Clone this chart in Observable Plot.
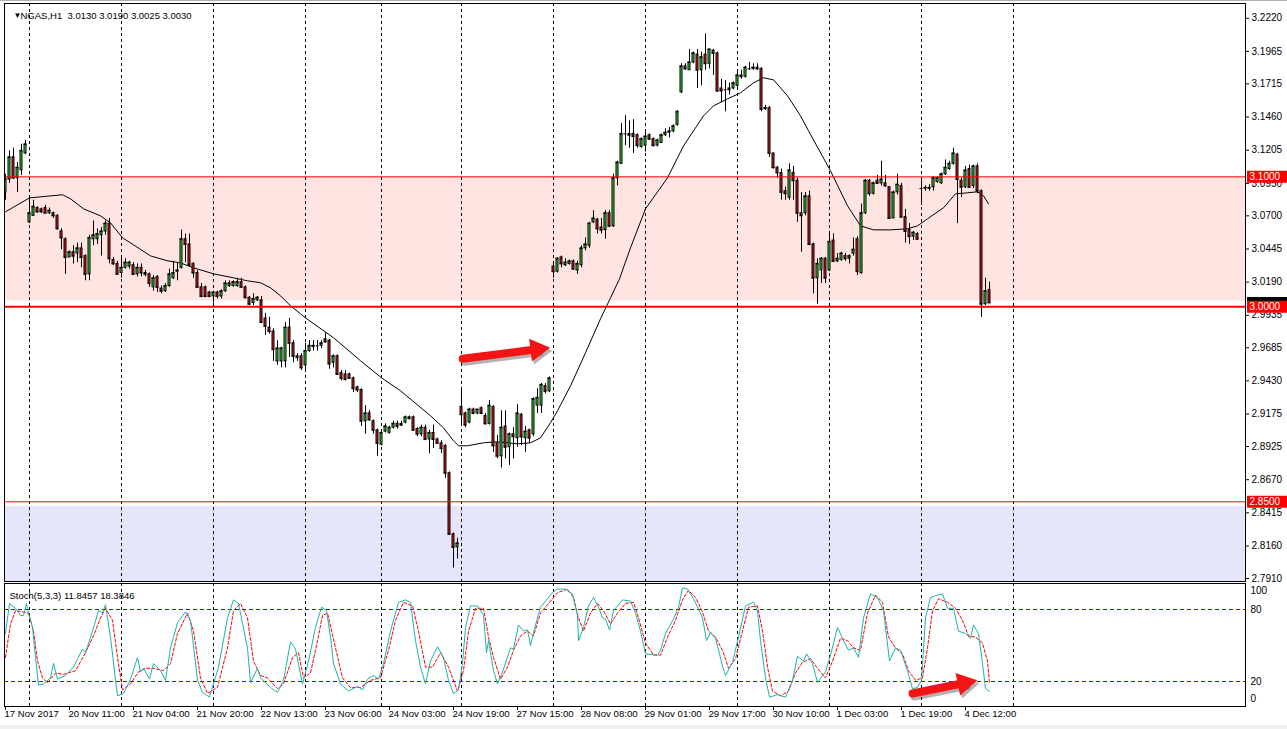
<!DOCTYPE html>
<html><head><meta charset="utf-8">
<script src="https://cdn.jsdelivr.net/npm/d3@7"></script>
<script src="https://cdn.jsdelivr.net/npm/@observablehq/plot@0.6"></script>
<style>
body{margin:0;background:#fff;}
#wrap{position:relative;width:1287px;height:729px;background:#fff;overflow:hidden;}
#wrap svg{display:block;}
#stochBox{margin-top:-8px;}
#bottomStrip{position:absolute;left:0;bottom:0;width:1287px;height:4px;background:#f0f0f0;}
#topStrip{position:absolute;left:0;top:0;width:1287px;height:1px;background:#b0b0b0;}
</style></head><body><div id="wrap"><div id="mainBox"></div><div id="stochBox"></div><div id="topStrip"></div><div id="bottomStrip"></div></div>
<script>
const symbol = "NGAS";
const timeframe = "H1";

// ---- candles (H1), bar index 0 = 17 Nov 2017 ----
const open = [
3.088,3.098,3.115,3.099,3.105,3.118,3.065,3.070,3.076,3.075,
3.076,3.072,3.072,3.070,3.058,3.052,3.038,3.042,3.041,3.045,
3.039,3.025,3.052,3.052,3.055,3.058,3.064,3.036,3.033,3.026,
3.030,3.031,3.032,3.025,3.030,3.026,3.025,3.015,3.023,3.014,
3.012,3.016,3.022,3.027,3.030,3.052,3.048,3.033,3.026,3.015,
3.015,3.011,3.008,3.011,3.008,3.012,3.016,3.016,3.016,3.019,
3.015,3.007,3.003,3.005,3.005,2.991,2.984,2.981,2.958,2.958,
2.958,2.984,2.972,2.962,2.962,2.955,2.966,2.969,2.970,2.970,
2.975,2.974,2.957,2.962,2.949,2.948,2.948,2.945,2.938,2.936,
2.912,2.918,2.912,2.905,2.894,2.904,2.903,2.907,2.910,2.910,
2.911,2.915,2.915,2.906,2.902,2.907,2.898,2.903,2.898,2.895,
2.893,2.872,2.825,2.815,2.923,2.918,2.911,2.921,2.918,2.922,
2.916,2.910,2.923,2.895,2.885,2.908,2.892,2.902,2.899,2.917,
2.899,2.905,2.902,2.924,2.924,2.939,2.935,3.031,3.027,3.038,
3.032,3.033,3.035,3.028,3.032,3.045,3.047,3.065,3.067,3.061,
3.059,3.072,3.062,3.099,3.110,3.133,3.133,3.133,3.132,3.123,
3.124,3.132,3.129,3.124,3.126,3.132,3.134,3.135,3.140,3.165,
3.185,3.182,3.188,3.194,3.182,3.194,3.187,3.197,3.195,3.168,
3.167,3.168,3.168,3.170,3.178,3.177,3.183,3.183,3.184,3.183,
3.152,3.153,3.118,3.107,3.103,3.089,3.084,3.103,3.097,3.072,
3.072,3.085,3.048,3.022,3.028,3.037,3.028,3.051,3.035,3.036,
3.039,3.037,3.041,3.052,3.026,3.072,3.097,3.087,3.097,3.095,
3.095,3.092,3.068,3.088,3.093,3.069,3.059,3.054,3.056,3.091,
3.091,3.091,3.092,3.096,3.095,3.102,3.106,3.110,3.117,3.097,
3.092,3.106,3.093,3.108,3.089,3.002,3.0130];
const high = [
3.102,3.120,3.122,3.111,3.125,3.128,3.084,3.082,3.077,3.076,
3.078,3.076,3.073,3.071,3.060,3.053,3.043,3.047,3.049,3.049,
3.040,3.055,3.066,3.060,3.061,3.066,3.068,3.038,3.035,3.038,
3.037,3.035,3.034,3.033,3.033,3.028,3.026,3.024,3.024,3.016,
3.018,3.029,3.035,3.034,3.059,3.056,3.056,3.034,3.028,3.018,
3.016,3.012,3.012,3.012,3.013,3.020,3.020,3.020,3.022,3.022,
3.016,3.008,3.010,3.008,3.008,2.995,2.992,2.983,2.974,2.969,
2.988,2.991,2.974,2.964,2.964,2.972,2.974,2.974,2.974,2.974,
2.980,2.975,2.963,2.963,2.951,2.951,2.949,2.946,2.939,2.937,
2.924,2.920,2.913,2.906,2.905,2.910,2.908,2.912,2.912,2.912,
2.916,2.916,2.916,2.907,2.909,2.909,2.905,2.909,2.899,2.897,
2.894,2.873,2.826,2.822,2.938,2.919,2.922,2.922,2.921,2.923,
2.918,2.928,2.924,2.901,2.920,2.920,2.903,2.907,2.925,2.918,
2.908,2.906,2.930,2.937,2.941,2.941,2.946,3.034,3.038,3.039,
3.037,3.036,3.036,3.035,3.047,3.053,3.065,3.074,3.068,3.068,
3.074,3.074,3.102,3.112,3.141,3.147,3.143,3.144,3.133,3.130,
3.135,3.133,3.130,3.129,3.133,3.137,3.138,3.140,3.151,3.187,
3.187,3.198,3.196,3.198,3.196,3.210,3.198,3.198,3.196,3.175,
3.174,3.172,3.173,3.182,3.182,3.185,3.188,3.187,3.187,3.184,
3.155,3.154,3.118,3.108,3.106,3.092,3.110,3.108,3.099,3.088,
3.088,3.089,3.049,3.037,3.038,3.038,3.058,3.056,3.041,3.042,
3.041,3.040,3.053,3.054,3.079,3.098,3.098,3.096,3.101,3.112,
3.101,3.092,3.089,3.102,3.095,3.075,3.064,3.058,3.057,3.097,
3.093,3.094,3.100,3.100,3.103,3.113,3.112,3.122,3.118,3.099,
3.108,3.109,3.109,3.110,3.090,3.022,3.0190];
const low = [
3.082,3.095,3.098,3.088,3.101,3.117,3.064,3.070,3.072,3.072,
3.072,3.071,3.068,3.059,3.044,3.025,3.038,3.033,3.034,3.030,
3.020,3.020,3.047,3.048,3.039,3.055,3.033,3.032,3.025,3.022,
3.029,3.029,3.024,3.023,3.023,3.023,3.015,3.012,3.011,3.010,
3.011,3.015,3.021,3.020,3.029,3.034,3.031,3.022,3.015,3.007,
3.007,3.007,3.003,3.006,3.006,3.011,3.015,3.015,3.015,3.014,
3.006,3.001,3.001,3.004,2.987,2.978,2.979,2.958,2.955,2.953,
2.953,2.961,2.957,2.958,2.951,2.951,2.965,2.966,2.966,2.968,
2.972,2.952,2.953,2.948,2.943,2.943,2.944,2.934,2.934,2.908,
2.902,2.912,2.902,2.885,2.893,2.903,2.902,2.906,2.906,2.908,
2.910,2.913,2.905,2.900,2.900,2.897,2.887,2.891,2.895,2.887,
2.868,2.825,2.799,2.806,2.910,2.907,2.910,2.917,2.917,2.917,
2.909,2.909,2.888,2.883,2.876,2.883,2.878,2.883,2.892,2.893,
2.888,2.895,2.900,2.918,2.918,2.933,2.934,3.022,3.026,3.030,
3.031,3.032,3.028,3.025,3.030,3.043,3.045,3.064,3.056,3.056,
3.052,3.061,3.061,3.093,3.110,3.124,3.122,3.118,3.122,3.122,
3.119,3.128,3.123,3.123,3.126,3.131,3.130,3.134,3.139,3.164,
3.182,3.182,3.187,3.168,3.170,3.182,3.183,3.178,3.165,3.157,
3.150,3.163,3.167,3.168,3.175,3.176,3.182,3.182,3.182,3.150,
3.151,3.115,3.106,3.099,3.082,3.082,3.082,3.082,3.065,3.042,
3.070,3.047,3.010,3.002,3.018,3.018,3.027,3.034,3.034,3.035,
3.035,3.033,3.039,3.024,3.025,3.071,3.085,3.086,3.094,3.093,
3.092,3.068,3.068,3.086,3.068,3.049,3.048,3.051,3.051,3.078,
3.089,3.089,3.089,3.095,3.094,3.101,3.105,3.109,3.064,3.084,
3.091,3.091,3.091,3.087,2.992,3.001,3.0025];
const close = [
3.098,3.115,3.099,3.107,3.120,3.125,3.072,3.077,3.073,3.073,
3.072,3.074,3.070,3.060,3.053,3.038,3.042,3.039,3.045,3.038,
3.025,3.053,3.055,3.056,3.058,3.064,3.037,3.033,3.025,3.030,
3.034,3.034,3.025,3.030,3.026,3.025,3.018,3.022,3.015,3.012,
3.016,3.025,3.026,3.028,3.052,3.048,3.032,3.026,3.015,3.008,
3.008,3.008,3.011,3.008,3.012,3.018,3.018,3.019,3.019,3.015,
3.007,3.002,3.006,3.007,2.988,2.985,2.981,2.967,2.968,2.968,
2.984,2.972,2.962,2.961,2.953,2.966,2.970,2.970,2.970,2.972,
2.973,2.956,2.962,2.948,2.945,2.944,2.945,2.937,2.936,2.912,
2.918,2.913,2.905,2.895,2.903,2.908,2.907,2.910,2.908,2.909,
2.915,2.914,2.905,2.902,2.907,2.898,2.903,2.898,2.895,2.891,
2.872,2.825,2.815,2.818,2.917,2.909,2.921,2.918,2.921,2.918,
2.910,2.924,2.893,2.885,2.907,2.892,2.902,2.900,2.918,2.900,
2.904,2.899,2.929,2.930,2.940,2.935,2.945,3.027,3.037,3.033,
3.034,3.035,3.029,3.033,3.045,3.048,3.064,3.068,3.060,3.059,
3.072,3.062,3.099,3.111,3.133,3.133,3.132,3.131,3.124,3.129,
3.131,3.129,3.124,3.128,3.132,3.134,3.135,3.139,3.150,3.185,
3.183,3.188,3.195,3.182,3.192,3.187,3.198,3.195,3.166,3.166,
3.167,3.167,3.172,3.178,3.177,3.184,3.183,3.184,3.183,3.152,
3.153,3.118,3.107,3.103,3.088,3.087,3.105,3.097,3.072,3.070,
3.085,3.048,3.022,3.033,3.037,3.022,3.050,3.035,3.037,3.041,
3.037,3.039,3.044,3.027,3.072,3.097,3.087,3.095,3.095,3.098,
3.093,3.068,3.088,3.094,3.069,3.058,3.054,3.057,3.052,3.091,
3.0915,3.0915,3.099,3.099,3.102,3.107,3.110,3.118,3.098,3.092,
3.105,3.092,3.108,3.089,3.002,3.012,3.0030];

// ---- moving average ----
const maIdx = [0,6,14.25,16.25,19.5,23.75,26.25,29.25,32,36.25,40.5,43.75,47,52,57,60.5,63.75,66.25,68.75,71.25,73.75,75,82,88.75,94,98.75,106.25,109.5,112,113.25,115.5,119.5,123,128,131.25,133.75,136.25,138,141.25,145,148.75,151.25,153.5,156.25,160,165.5,169.5,174.5,177,180.5,183.75,187,189.5,192,195.5,198.75,200.75,206.25,210.5,213.75,217,221.25,225.5,228,230.5,234.5,237.5,240.5,243,244.5,245.75];
const maVal = [3.0731,3.0838,3.0862,3.0831,3.0754,3.0700,3.0646,3.0531,3.0477,3.0392,3.0354,3.0338,3.0300,3.0254,3.0223,3.0200,3.0185,3.0146,3.0085,3.0008,2.9946,2.9915,2.9762,2.9585,2.9454,2.9354,2.9162,2.9069,2.8969,2.8931,2.8931,2.8954,2.8962,2.8946,2.8954,2.8992,2.9108,2.9200,2.9392,2.9646,2.9908,3.0069,3.0215,3.0454,3.0754,3.0992,3.1238,3.1469,3.1546,3.1600,3.1646,3.1723,3.1762,3.1746,3.1623,3.1469,3.1354,3.1046,3.0777,3.0623,3.0592,3.0592,3.0600,3.0623,3.0677,3.0762,3.0869,3.0877,3.0885,3.0854,3.0792];

// ---- Stochastic (5,3,3) ----
const kIdx = [0,1,2.5,3.75,4.5,5.25,5.75,6.75,7.5,8.25,9.5,11.25,12,13,15,17,19.25,20,21.75,23.25,24.25,25,26.25,27.5,28,29.5,31.25,33,33.75,34.5,36,37,38.75,40,41.25,43,45,46.25,48,49.25,51,53.25,55.5,57,58.25,60.5,61.25,63,63.75,66.25,68,69.5,71.25,72.5,74.25,75.75,77.5,79,80.25,81.25,82,83.75,85.75,88,89.25,90.5,92,93.25,94.5,96.25,98.25,100,101.25,102.5,103.75,105,106.25,108,109.5,110.75,112,113.25,114.25,115,116.25,118,119.5,120.25,120.75,122,123,124.25,126.25,127,128.25,129.5,130.5,131.25,132.5,133.75,135.5,136.75,138,140,141.75,143,143.25,144.5,145.75,147,148.25,149.25,150,151,152,154.25,156.25,157.5,158.75,160,163,163.75,165,167,168.25,169.25,170.5,172,174.25,175.25,176.25,177.5,179.25,180,181.75,183.25,185,187,188,188.75,190,191,193,195,196.75,198,199.5,200.25,201.75,203,205,206.25,208,209.25,210.75,212,213.25,214.5,216.25,218,219.5,221,222.5,223.75,225.5,226.75,228,229,230,231.25,233,234.25,235.5,237,238.25,240,241.25,242,243.25,244.25,245,246];
const kVal = [60,85,81,75,75,85,77,65,40,17,18,23,35,22,25,32,47,44,62,79,77,84,57,21,8,10,22,40,28,31,22,35,29,21,48,69,78,71,21,11,7,32,73,88,85,48,19,31,23,15,11,21,53,47,18,37,65,82,79,57,35,18,12,16,13,22,25,22,35,62,86,88,86,54,32,18,37,49,40,21,10,13,35,65,83,83,75,44,54,29,18,28,48,47,67,62,63,50,67,82,89,94,97,97,93,75,54,65,83,90,82,73,72,63,79,88,87,77,62,43,42,46,60,72,82,98,97,89,73,54,61,56,33,25,36,57,83,86,79,54,23,7,9,7,21,41,37,43,35,19,28,42,65,56,46,48,40,73,93,90,79,37,48,46,29,14,15,21,73,90,92,93,81,81,62,60,56,67,60,35,14,11.8457];
const dIdx = [0,1.25,2.5,4.25,5.75,7,8,9.25,10.5,12.5,14.5,17.5,20,22,23.75,25,26.75,28,29.25,31.25,33.25,35,37,39.5,41.25,43,45.5,47,48.75,50.5,53,55.5,57,58.75,60.5,62,63.75,65.5,68,69.5,71.75,73.25,74.5,76.25,78,79.25,80.5,82.5,84.25,86.25,88.75,91.25,93.75,95.75,97.5,99.5,101.75,103.25,105,106.75,108.75,110.75,113,114.5,115.75,117.5,119.5,120.75,122,123.75,125.5,127,128.75,130.5,132,133.75,135.75,138,140.5,142,143.25,144.5,146.25,148,149.5,151.25,153,155,157,158.25,160,162,163.75,165.5,167.5,169.25,170.75,172.5,174.25,175.75,177.5,179.25,180.75,182.5,184.25,185.75,188,189.25,190.5,191.75,193.75,195.75,197.5,199.25,201.25,203,205,206.75,208.75,210.5,212,213.75,215.5,217.5,219.25,220.75,222.5,224.25,225.75,227.5,229.25,230.5,231.75,233.25,235.5,237.5,239.25,240.75,242.5,244.25,245.5,246];
const dVal = [40,68,79,78,77,62,37,23,19,27,26,29,44,58,73,81,71,40,13,18,28,31,31,29,35,60,77,62,23,10,15,48,79,85,73,37,25,23,14,18,40,44,23,27,54,75,77,48,23,15,15,21,23,46,71,86,83,62,32,32,44,32,12,29,62,81,81,57,40,22,32,46,58,62,58,77,85,94,97,90,73,62,77,85,79,68,77,85,86,73,52,42,42,57,71,88,96,90,78,62,57,46,31,39,62,82,83,62,32,12,8,12,27,36,39,31,23,37,56,54,48,46,77,92,86,57,48,43,29,21,23,48,79,89,86,81,71,58,57,52,37,18.3846];

// ---- axes / annotations ----
const priceTicks = [3.2220,3.1965,3.1715,3.1460,3.1205,3.0950,3.0700,3.0445,3.0190,2.9935,2.9685,2.9430,2.9175,2.8925,2.8670,2.8415,2.8160,2.7910];
const levels = [3.1000, 3.0000, 2.8500];
const resistanceZone = [3.0045, 3.1000];
const supportZone = [2.7800, 2.8465];
const separators = [6,29,52,75,94,114,137,160,183,206,229,252];
const timeTickIdx = [0,16,32,48,64,80,96,112,128,144,160,176,192,208,224,240];
const timeLabels = ["17 Nov 2017","20 Nov 11:00","21 Nov 04:00","21 Nov 20:00","22 Nov 13:00","23 Nov 06:00","24 Nov 03:00","24 Nov 19:00","27 Nov 15:00","28 Nov 08:00","29 Nov 01:00","29 Nov 17:00","30 Nov 10:00","1 Dec 03:00","1 Dec 19:00","4 Dec 12:00"];
const stochLevels = [20, 80];
const stochLabels = [100, 80, 20, 0];
const mainArrowTail = [114.3, 2.9600];
const mainArrowHead = [132.9, 2.9673];
const stochArrowTail = [226.75, 10.0];
const stochArrowHead = [239.7, 18.75];

// ---- build ----
const W = 1287;
const FONT = '"Liberation Sans", Arial, sans-serif';
const GREEN = "#2fdc2f", RED = "#d81c1c";
const candles = open.map((o, i) => ({i, o, h: high[i], l: low[i], c: close[i]}));
const bull = candles.filter(d => d.c >= d.o);
const bear = candles.filter(d => d.c < d.o);
const ma = maIdx.map((x, j) => ({x, y: maVal[j]}));
const kLine = kIdx.map((x, j) => ({x, y: kVal[j]}));
const dLine = dIdx.map((x, j) => ({x, y: dVal[j]}));
const last = candles[candles.length - 1];
const xOpt = {domain: [0, 310], range: [5, 1245]};
const nb = "\u00a0";

function arrowMarks(tail, head, rot, w) {
  const one = [0];
  return [
    Plot.link(one, {x1: () => tail[0], y1: () => tail[1], x2: () => head[0], y2: () => head[1], stroke: "#000", strokeOpacity: 0.3, strokeWidth: w, strokeLinecap: "round", dx: 2, dy: 3}),
    Plot.dot(one, {x: () => head[0], y: () => head[1], symbol: "triangle", r: 8.5, fill: "#000", fillOpacity: 0.3, rotate: rot, dx: 2, dy: 3}),
    Plot.link(one, {x1: () => tail[0], y1: () => tail[1], x2: () => head[0], y2: () => head[1], stroke: "#f41414", strokeWidth: w, strokeLinecap: "round"}),
    Plot.dot(one, {x: () => head[0], y: () => head[1], symbol: "triangle", r: 8.5, fill: "#f41414", rotate: rot})
  ];
}

const main = Plot.plot({
  width: W, height: 590,
  marginLeft: 4, marginRight: 42, marginTop: 3, marginBottom: 9,
  style: {fontFamily: FONT, fontSize: "10px", background: "transparent", color: "#000", overflow: "visible"},
  x: {...xOpt, axis: null},
  y: {domain: [2.7887, 3.2318], range: [581, 5], axis: "right", ticks: priceTicks, tickFormat: d => d.toFixed(4), tickSize: 3, tickPadding: 3, label: null},
  marks: [
    Plot.rect([resistanceZone], {x1: () => -2, x2: () => 312, y1: d => d[0], y2: d => d[1], fill: "#ffe4e1", clip: true}),
    Plot.rect([supportZone], {x1: () => -2, x2: () => 312, y1: d => d[0], y2: d => d[1], fill: "#e6e6fa", clip: true}),
    Plot.ruleX(separators, {x: d => d, stroke: "#000", strokeDasharray: "3,3", clip: true}),
    Plot.line(ma, {x: "x", y: "y", stroke: "#000", strokeWidth: 1, clip: true}),
    Plot.ruleX(candles, {x: "i", y1: "l", y2: "h", stroke: "#000", clip: true}),
    Plot.rect(bull, {x1: d => d.i - 0.25, x2: d => d.i + 0.25, y1: "o", y2: "c", fill: GREEN, stroke: "#000", strokeWidth: 1, clip: true}),
    Plot.rect(bear, {x1: d => d.i - 0.25, x2: d => d.i + 0.25, y1: "o", y2: "c", fill: RED, stroke: "#000", strokeWidth: 1, clip: true}),
    Plot.ruleY(candles, {y: "c", x1: d => d.i - 0.375, x2: d => d.i + 0.375, stroke: "#000", clip: true}),
    Plot.ruleY([levels[0]], {y: d => d, stroke: "#ff0000", strokeWidth: 1}),
    Plot.ruleY([levels[1]], {y: d => d, stroke: "#ff0000", strokeWidth: 2}),
    Plot.ruleY([levels[2]], {y: d => d, stroke: "#ff0000", strokeWidth: 1}),
    ...arrowMarks(mainArrowTail, mainArrowHead, 83, 8),
    Plot.ruleY([last.c], {y: d => d, x1: () => 310.5, x2: () => 321, stroke: "#000", strokeWidth: 12}),
    Plot.ruleY(levels, {y: d => d, x1: () => 310.5, x2: () => 321, stroke: "#ff0000", strokeWidth: 12}),
    Plot.text(levels, {y: d => d, x: () => 311, text: d => d.toFixed(4), fill: "#fff", textAnchor: "start", fontSize: 10}),
    Plot.text(["\u25BC"], {frameAnchor: "top-left", dx: 9, dy: 9, fontSize: 8, fill: "#000"}),
    Plot.text([0], {frameAnchor: "top-left", dx: 16, dy: 9, textAnchor: "start", fill: "#000", fontSize: 9.5,
      text: () => `${symbol},${timeframe}${nb}${nb}${last.o.toFixed(4)} ${last.h.toFixed(4)} ${last.l.toFixed(4)} ${last.c.toFixed(4)}`}),
    Plot.frame({stroke: "#000"})
  ]
});

const stoch = Plot.plot({
  width: W, height: 147,
  marginLeft: 4, marginRight: 42, marginTop: 1, marginBottom: 23,
  style: {fontFamily: FONT, fontSize: "10px", background: "transparent", color: "#000"},
  x: {...xOpt, axis: "bottom", ticks: timeTickIdx, tickFormat: () => "", tickSize: 4, label: null},
  y: {domain: [0, 100], range: [123, 3], axis: null},
  marks: [
    Plot.ruleX(separators, {x: d => d, stroke: "#000", strokeDasharray: "3,3", clip: true}),
    Plot.ruleY(stochLevels, {y: d => d, stroke: "#1c1ce8", strokeDasharray: "4,3"}),
    Plot.line(dLine, {x: "x", y: "y", stroke: "#ff0000", strokeDasharray: "3,2", strokeWidth: 1, clip: true}),
    Plot.line(kLine, {x: "x", y: "y", stroke: "#20b2aa", strokeWidth: 1, clip: true}),
    ...arrowMarks(stochArrowTail, stochArrowHead, 78.5, 8),
    Plot.text(timeTickIdx, {x: d => d, text: (d, i) => timeLabels[i], frameAnchor: "bottom", dy: 10, dx: -1, textAnchor: "start", fill: "#000", fontSize: 9.6}),
    Plot.text([stochLabels[0]], {y: d => d, text: d => String(d), frameAnchor: "right", dx: 5, dy: 5, textAnchor: "start", fill: "#000"}),
    Plot.text([stochLabels[1], stochLabels[2]], {y: d => d, text: d => String(d), frameAnchor: "right", dx: 5, textAnchor: "start", fill: "#000"}),
    Plot.text([stochLabels[3]], {y: d => d, text: d => String(d), frameAnchor: "right", dx: 5, dy: -7, textAnchor: "start", fill: "#000"}),
    Plot.text([0], {frameAnchor: "top-left", dx: 5, dy: 9, textAnchor: "start", fill: "#000", fontSize: 9.5,
      text: () => `Stoch(5,3,3) ${kVal[kVal.length - 1].toFixed(4)} ${dVal[dVal.length - 1].toFixed(4)}`}),
    Plot.frame({stroke: "#000"})
  ]
});

document.getElementById("mainBox").appendChild(main);
document.getElementById("stochBox").appendChild(stoch);
</script>
</body></html>
